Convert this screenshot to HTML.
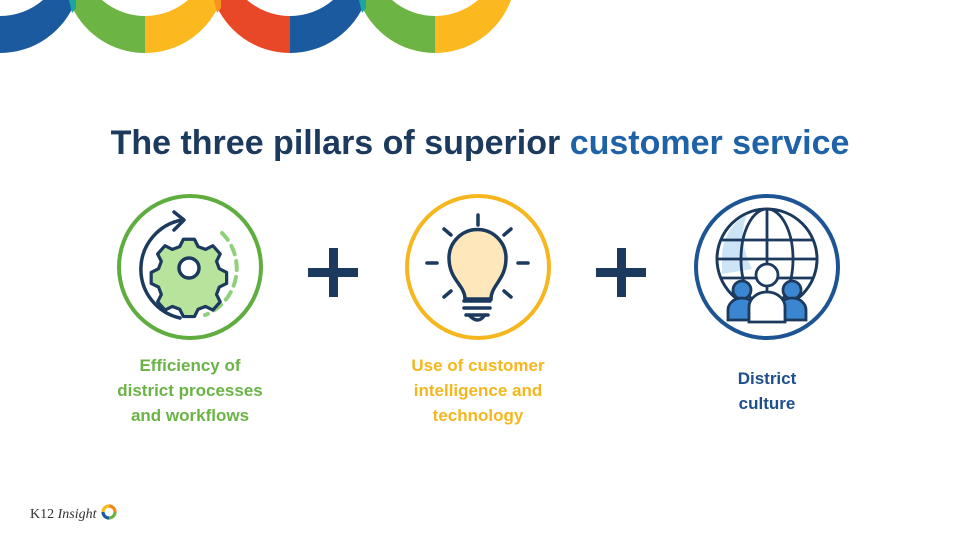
<!DOCTYPE html>
<html><head><meta charset="utf-8"><style>
html,body{margin:0;padding:0;background:#fff;}
body{width:960px;height:540px;overflow:hidden;position:relative;font-family:"Liberation Sans",sans-serif;}
</style></head><body>
<svg width="960" height="540" viewBox="0 0 960 540" xmlns="http://www.w3.org/2000/svg" style="position:absolute;left:0;top:0">
<!-- top arcs -->
<g>
  <path d="M0,53 A81,81 0 0 0 76,0 L43,0 A66,66 0 0 1 0,16 Z" fill="#1c5aa0"/>
  <path d="M69,0 A81,81 0 0 0 145,53 L145,16 A66,66 0 0 1 102,0 Z" fill="#6cb444"/>
  <path d="M69,0 L76,0 L76,8 A81,81 0 0 1 72,13 Z" fill="#1fa3a0"/>
  <path d="M145,53 A81,81 0 0 0 221,0 L188,0 A66,66 0 0 1 145,16 Z" fill="#fbb91f"/>
  <path d="M214,0 A81,81 0 0 0 290,53 L290,16 A66,66 0 0 1 247,0 Z" fill="#e84828"/>
  <path d="M214,0 L221,0 L221,8 A81,81 0 0 1 217,13 Z" fill="#f7941d"/>
  <path d="M290,53 A81,81 0 0 0 366,0 L333,0 A66,66 0 0 1 290,16 Z" fill="#1c5aa0"/>
  <path d="M359,0 A81,81 0 0 0 435,53 L435,16 A66,66 0 0 1 392,0 Z" fill="#6cb444"/>
  <path d="M359,0 L366,0 L366,8 A81,81 0 0 1 362,13 Z" fill="#1fa3a0"/>
  <path d="M435,53 A81,81 0 0 0 511,0 L478,0 A66,66 0 0 1 435,16 Z" fill="#fbb91f"/>
</g>
<!-- title -->
<text x="480" y="154" text-anchor="middle" font-family="Liberation Sans, sans-serif" font-weight="bold" font-size="34" fill="#1b3a5e">The three pillars of superior <tspan fill="#1f62a8">customer service</tspan></text>

<!-- circles -->
<circle cx="190" cy="267" r="71" fill="#fff" stroke="#5fad3f" stroke-width="4"/>
<circle cx="478" cy="267" r="71" fill="#fff" stroke="#f5b61e" stroke-width="4"/>
<circle cx="767" cy="267" r="71" fill="#fff" stroke="#1d5594" stroke-width="4"/>

<!-- plus signs -->
<g fill="#1b3a5e">
<rect x="308" y="268" width="50" height="9"/><rect x="329" y="248" width="9" height="49"/>
<rect x="596" y="268" width="50" height="9"/><rect x="617" y="248" width="9" height="49"/>
</g>

<!-- gear icon -->
<g stroke="#1b3a5e" stroke-width="3.5" fill="none" stroke-linecap="round">
  <path d="M180,318 A50,50 0 0 1 182,220" />
  <path d="M174,212 L184,220 L174,230" stroke-linejoin="round"/>
  <path d="M222,233 A50,50 0 0 1 205,315" stroke="#8fd17a" stroke-dasharray="9,7" stroke-width="4"/>
  <path d="M179,245 l4,-8 h12 l4,8 l8,3 l8,-4 l8,9 l-4,8 l3,8 l8,4 v12 l-8,4 l-3,8 l4,8 l-8,9 l-8,-4 l-8,3 l-4,8 h-12 l-4,-8 l-8,-3 l-8,4 l-8,-9 l4,-8 l-3,-8 l-8,-4 v-12 l8,-4 l3,-8 l-4,-8 l8,-9 l8,4 z" fill="#b7e39d" stroke-linejoin="round" transform="translate(4,1) scale(0.92) translate(12,22)"/>
  <circle cx="189" cy="268" r="10" fill="#fff"/>
</g>

<!-- bulb -->
<g stroke="#1b3a5e" stroke-width="3.5" fill="none" stroke-linecap="round">
  <path d="M465,299 C465,285 449,280 449,258 A28,28 0 0 1 506,258 C506,280 491,285 491,299 Z" fill="#fde7bb"/>
  <path d="M464,301 h26 M464,308 h26 M466,315 h22" />
  <path d="M470,316 q8,8 14,0" />
  <path d="M478,215 v10 M444,229 l7,6 M511,229 l-7,6 M427,263 h10 M518,263 h10 M444,297 l7,-6 M511,297 l-7,-6"/>
</g>

<!-- globe + people -->
<g stroke="#1b3a5e" stroke-width="2.8" fill="none">
  <circle cx="767" cy="259" r="50" fill="#fff"/>
  <path d="M722,255 a50,50 0 0 1 25,-41 q-10,25 5,55 l-30,5 z" fill="#cce4f5" stroke="none"/>
  <circle cx="767" cy="259" r="50"/>
  <ellipse cx="767" cy="259" rx="26" ry="50"/>
  <path d="M767,209 v100 M721,240 h92 M717,259 h100 M721,278 h92"/>
  <circle cx="742" cy="290" r="9" fill="#3b86d0"/>
  <path d="M728,320 v-10 a14,12 0 0 1 28,0 v10 z" fill="#3b86d0"/>
  <circle cx="792" cy="290" r="9" fill="#3b86d0"/>
  <path d="M778,320 v-10 a14,12 0 0 1 28,0 v10 z" fill="#3b86d0"/>
  <circle cx="767" cy="275" r="11" fill="#fff"/>
  <path d="M749,322 v-15 a18,15 0 0 1 36,0 v15 z" fill="#fff"/>
</g>

<!-- labels -->
<g font-family="Liberation Sans, sans-serif" font-weight="bold" font-size="17" text-anchor="middle">
  <text fill="#6ab446"><tspan x="190" y="371">Efficiency of</tspan><tspan x="190" y="396">district processes</tspan><tspan x="190" y="421">and workflows</tspan></text>
  <text fill="#f5b61e"><tspan x="478" y="371">Use of customer</tspan><tspan x="478" y="396">intelligence and</tspan><tspan x="478" y="421">technology</tspan></text>
  <text fill="#1d4f8c"><tspan x="767" y="384">District</tspan><tspan x="767" y="409">culture</tspan></text>
</g>

<!-- logo -->
<text x="30" y="518" font-family="Liberation Serif, serif" font-size="14" fill="#333">K12 <tspan font-style="italic">Insight</tspan></text>
<g fill="none" stroke-width="3.2">
  <path d="M109,506 a6,6 0 0 1 6,6" stroke="#f08a1c"/>
  <path d="M115,512 a6,6 0 0 1 -6,6" stroke="#6cb444"/>
  <path d="M109,518 a6,6 0 0 1 -6,-6" stroke="#1c5aa0"/>
  <path d="M103,512 a6,6 0 0 1 6,-6" stroke="#fbb91f"/>
</g>
</svg>
</body></html>
